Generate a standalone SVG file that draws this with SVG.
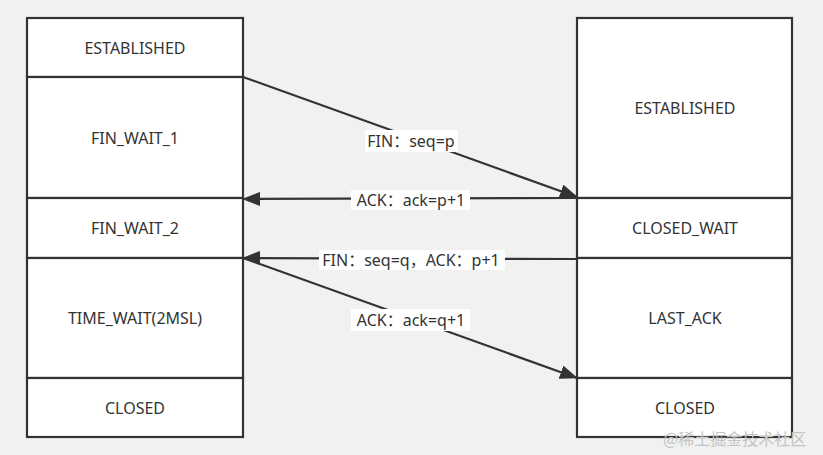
<svg xmlns="http://www.w3.org/2000/svg" width="823" height="455" viewBox="0 0 823 455">
<style>
.box{fill:#fff;stroke:#333;stroke-width:2.2}
.t{font-family:"Noto Sans","Noto Sans CJK SC",sans-serif;font-size:16px;fill:#333;text-anchor:middle;dominant-baseline:central}
.ln{stroke:#333;stroke-width:2.2;fill:none;marker-end:url(#ah)}
.lb{fill:#fff}
.wm{font-family:"Noto Sans CJK SC",sans-serif;font-size:16px;fill:#c4c4c4}
</style>
<defs>
<marker id="ah" markerUnits="userSpaceOnUse" markerWidth="18" markerHeight="14" viewBox="0 0 18 14" refX="17" refY="7" orient="auto">
<path d="M0,0 L18,7 L0,14 Z" fill="#333"/>
</marker>
</defs>
<rect width="823" height="455" fill="#f1f1f1"/>
<g id="left">
<g id="l-established"><rect class="box" x="27" y="18" width="216" height="59"/><text class="t" x="135" y="48">ESTABLISHED</text></g>
<g id="l-fin-wait-1"><rect class="box" x="27" y="77" width="216" height="121"/><text class="t" x="135" y="138">FIN_WAIT_1</text></g>
<g id="l-fin-wait-2"><rect class="box" x="27" y="198" width="216" height="60"/><text class="t" x="135" y="228">FIN_WAIT_2</text></g>
<g id="l-time-wait"><rect class="box" x="27" y="258" width="216" height="120"/><text class="t" x="135" y="318">TIME_WAIT(2MSL)</text></g>
<g id="l-closed"><rect class="box" x="27" y="378" width="216" height="59"/><text class="t" x="135" y="408">CLOSED</text></g>
</g>
<g id="right">
<g id="r-established"><rect class="box" x="577" y="18" width="215" height="180"/><text class="t" x="685" y="108">ESTABLISHED</text></g>
<g id="r-closed-wait"><rect class="box" x="577" y="198" width="215" height="60"/><text class="t" x="685" y="228">CLOSED_WAIT</text></g>
<g id="r-last-ack"><rect class="box" x="577" y="258" width="215" height="120"/><text class="t" x="685" y="318">LAST_ACK</text></g>
<g id="r-closed"><rect class="box" x="577" y="378" width="215" height="59"/><text class="t" x="685" y="408">CLOSED</text></g>
</g>
<g id="connectors">
<line class="ln" x1="243" y1="77" x2="577" y2="197"/>
<line class="ln" x1="577" y1="198" x2="243" y2="199"/>
<line class="ln" x1="577" y1="259" x2="243" y2="258"/>
<line class="ln" x1="243" y1="258" x2="577" y2="378"/>
<rect class="lb" x="365" y="130" width="93" height="22"/>
<text class="t" x="411" y="141">FIN：seq=p</text>
<rect class="lb" x="351" y="190" width="119" height="20"/>
<text class="t" x="411" y="200">ACK：ack=p+1</text>
<rect class="lb" x="319" y="250" width="186" height="20"/>
<text class="t" x="411" y="260">FIN：seq=q，ACK：p+1</text>
<rect class="lb" x="351" y="309" width="119" height="22"/>
<text class="t" x="411" y="320">ACK：ack=q+1</text>
</g>
<text class="wm" x="663" y="438" dominant-baseline="central">@稀土掘金技术社区</text>
</svg>
